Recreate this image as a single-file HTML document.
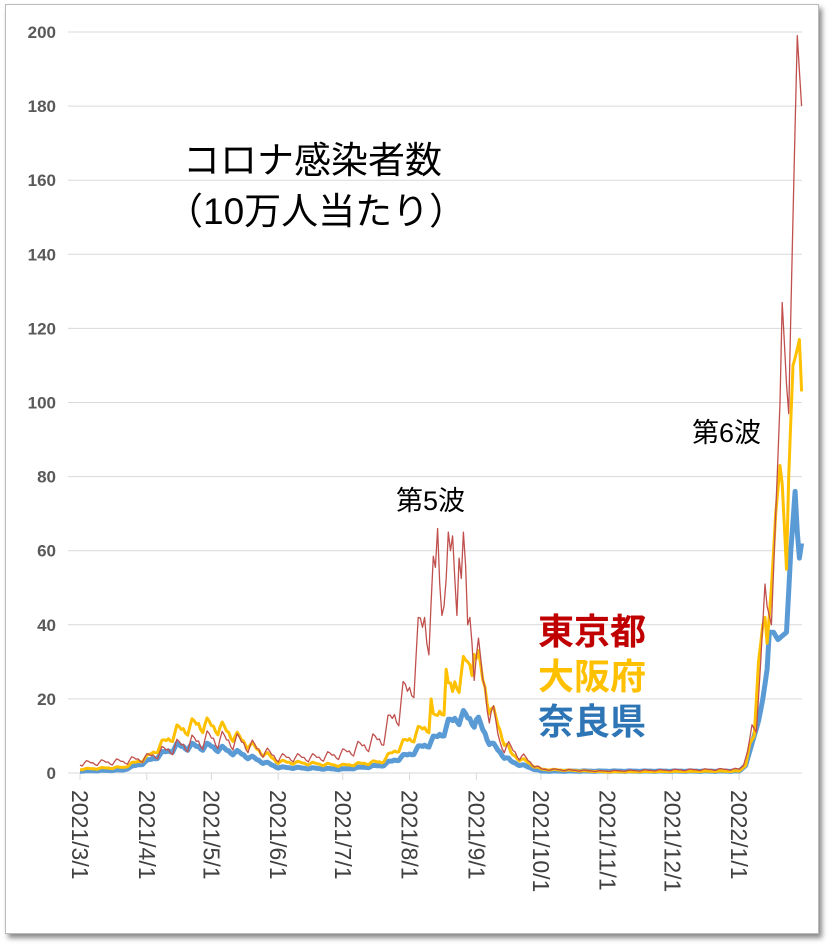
<!DOCTYPE html>
<html><head><meta charset="utf-8">
<style>
html,body{margin:0;padding:0;background:#fff;}
body{width:833px;height:948px;overflow:hidden;position:relative;}
#frame{position:absolute;left:5px;top:4px;width:812px;height:928px;border:1px solid #bbb;box-shadow:3px 4px 5px #888;background:#fff;}
svg{position:absolute;left:0;top:0;}
</style></head><body>
<div id="frame"></div>
<svg id="s" width="833" height="948" xmlns="http://www.w3.org/2000/svg" font-family="Liberation Sans, Noto Sans CJK JP, sans-serif">
<g id="grid" stroke="#d9d9d9" stroke-width="1"></g>
<g id="ylab" fill="#595959" font-size="17" font-weight="bold" text-anchor="end"></g>
<g id="xlab" fill="#404040" font-size="23"></g>
<g id="series" fill="none" stroke-linejoin="round"></g>
<text x="183" y="173" font-size="37" fill="#000">コロナ感染者数</text>
<text x="166" y="224" font-size="37" fill="#000">（10万人当たり）</text>
<text x="396" y="510" font-size="27" fill="#000">第5波</text>
<text x="692" y="442" font-size="27" fill="#000">第6波</text>
<text x="538" y="644" font-size="36" font-weight="bold" fill="#c00000">東京都</text>
<text x="538" y="689" font-size="36" font-weight="bold" fill="#ffc000">大阪府</text>
<text x="538" y="734" font-size="36" font-weight="bold" fill="#2e75b6">奈良県</text>
</svg>
<script>
var NS="http://www.w3.org/2000/svg";
function el(t,a,p){var e=document.createElementNS(NS,t);for(var k in a)e.setAttribute(k,a[k]);p.appendChild(e);return e;}
var y0=773,ys=3.705,x0=80,xs=2.154;
function Y(v){return y0-v*ys;}function X(d){return x0+d*xs;}
var g=document.getElementById('grid'),yl=document.getElementById('ylab'),xl=document.getElementById('xlab');
for(var v=0;v<=200;v+=20){el('line',{x1:68,x2:802,y1:Y(v),y2:Y(v)},g);var t=el('text',{x:56,y:Y(v)+6},yl);t.textContent=v;}
var ms=[0,31,61,92,122,153,184,214,245,275,306];
var ln=['2021/3/1','2021/4/1','2021/5/1','2021/6/1','2021/7/1','2021/8/1','2021/9/1','2021/10/1','2021/11/1','2021/12/1','2022/1/1'];
for(var i=0;i<ms.length;i++){var x=X(ms[i]);el('line',{x1:x,x2:x,y1:773,y2:780},g);var t=el('text',{transform:'translate('+(x-8)+',790) rotate(90)'},xl);t.textContent=ln[i];}
function interp(k,d){for(var i=0;i<k.length-1;i++){if(d>=k[i][0]&&d<=k[i+1][0]){var f=(d-k[i][0])/(k[i+1][0]-k[i][0]);return k[i][1]+f*(k[i+1][1]-k[i][1]);}}return k[k.length-1][1];}
var tokyo=[[0,2.5],[20,3],[31,4],[45,7],[61,9],[75,8],[92,4],[110,4],[122,5],[140,9],[153,22],[160,40],[168,50],[178,50],[184,30],[195,8],[214,1],[240,0.5],[306,1]];
var osaka=[[0,1],[20,1.5],[31,4],[45,11],[55,13],[65,12],[80,7],[92,3],[122,2],[140,3],[153,9],[165,14],[175,25],[184,30],[192,15],[200,5],[214,1],[245,0.3],[306,0.5]];
var nara=[[0,0.5],[20,0.8],[31,3],[45,7],[61,7],[75,5],[92,1.5],[122,1],[140,2],[153,5],[165,9],[175,15],[184,14],[192,7],[200,3],[214,0.5],[306,0.5]];
var tJan=[[306,1],[308,2],[310,6],[312,13],[314,11],[316,30],[318,51],[319,45],[321,40],[323,70],[325,100],[326,127],[328,105],[329,97],[331,150],[333,199],[335,180]];
var oJan=[[306,0.5],[309,2],[311,8],[313,10],[315,30],[317,40],[318,42],[319,35],[321,50],[323,70],[325,83],[326,78],[328,55],[329,80],[331,110],[332,112],[334,117],[335,103]];
var nJan=[[306,0.5],[309,2],[311,6],[313,10],[315,14],[317,20],[319,28],[320,38],[322,38],[324,36],[326,37],[328,38],[330,60],[332,76],[333,65],[334,58],[335,62]];
function series(k,jan,amp,col,w,spikes){var p=[];for(var d=0;d<=335;d++){var v;if(d>=306){v=interp(jan,d);}else{var b=interp(k,d);var wd=d%7;var m=1+amp*(wd==3?0.6:wd==4?0.4:wd==1?-0.5:wd==0?-0.3:0.1);v=Math.max(0,b*m);if(spikes&&spikes[d]!==undefined)v=spikes[d];}p.push(X(d).toFixed(1)+','+Y(v).toFixed(1));}
el('polyline',{points:p.join(' '),stroke:col,'stroke-width':w},document.getElementById('series'));}
series(nara,nJan,0.25,'#5b9bd5',5,{});
series(osaka,oJan,0.3,'#ffc000',3,{163:20,170:28,173:22,180:30,183:32,185:33});
series(tokyo,tJan,0.5,'#c0504d',1.3,{166:66,169:45,173:64,176:58,180:40,182:35});
</script>
</body></html>
